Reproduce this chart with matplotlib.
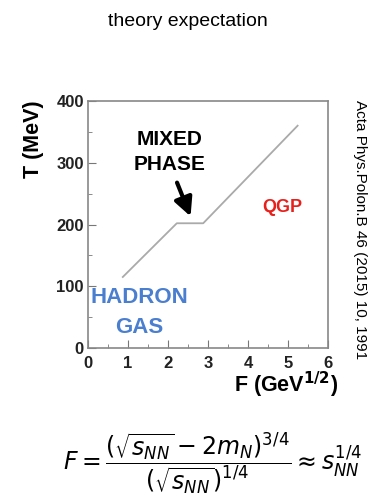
import matplotlib
matplotlib.use("Agg")
import matplotlib.pyplot as plt
from matplotlib.ticker import MultipleLocator

plt.rcParams['font.family'] = ['Liberation Sans', 'DejaVu Sans']
plt.rcParams['mathtext.fontset'] = 'dejavusans'

# expected T vs F curve
f_vals = [0.87, 2.22, 2.88, 5.24]
t_vals = [115, 202, 202, 360]

x_ticks = [0, 1, 2, 3, 4, 5, 6]
y_ticks = [0, 100, 200, 300, 400]

fig = plt.figure(figsize=(3.76, 4.97), dpi=100)
W, H = 376, 497
ax = fig.add_axes([88 / W, 1 - 348 / H, 240 / W, 247 / H])

ax.plot(f_vals, t_vals, color='#aaaaaa', lw=1.3)
ax.set_xlim(0, 6)
ax.set_ylim(0, 400)
ax.set_xticks(x_ticks)
ax.set_yticks(y_ticks)
ax.xaxis.set_minor_locator(MultipleLocator(0.5))
ax.yaxis.set_minor_locator(MultipleLocator(50))
ax.tick_params(which='both', direction='in', top=False, right=False,
               color='#777777', labelcolor='#222222')
ax.tick_params(which='major', length=6, labelsize=12, pad=3)
ax.tick_params(axis='x', which='major', pad=6)
ax.tick_params(which='minor', length=3)
for lab in ax.get_xticklabels() + ax.get_yticklabels():
    lab.set_fontweight('bold')
for sp in ax.spines.values():
    sp.set_color('#888888')
    sp.set_linewidth(1.2)

fig.text(33 / W, 1 - 139 / H, 'T (MeV)', fontsize=15.5, fontweight='bold',
         rotation=90, ha='center', va='center')
fig.text(338 / W, 1 - 385 / H, r'F (GeV$^{\mathbf{1/2}}$)', fontsize=15.5,
         fontweight='bold', ha='right', va='center')

ax.text(2.05, 317, 'MIXED\nPHASE', fontsize=15, fontweight='bold', color='black',
        ha='center', va='center', linespacing=1.4)
ax.annotate('', xy=(2.59, 209), xytext=(2.2, 272),
            arrowprops=dict(arrowstyle='-|>,head_length=1.1,head_width=0.55',
                            color='black', lw=3))
ax.text(4.85, 228, 'QGP', fontsize=13, fontweight='bold', color='#e8201c',
        ha='center', va='center')
ax.text(1.29, 58, 'HADRON\nGAS', fontsize=16, fontweight='bold', color='#4a7fd0',
        ha='center', va='center', linespacing=1.55)

fig.text(188 / W, 1 - 22 / H, 'theory expectation', fontsize=14,
         ha='center', va='center')
fig.text(360 / W, 1 - 230 / H, 'Acta Phys.Polon.B 46 (2015) 10, 1991',
         fontsize=11, rotation=-90, ha='center', va='center')
fig.text(213 / W, 1 - 463 / H,
         r'$F = \dfrac{(\sqrt{s_{NN}} - 2m_N)^{3/4}}{(\sqrt{s_{NN}})^{1/4}} \approx s_{NN}^{1/4}$',
         fontsize=17, ha='center', va='center')

fig.savefig('out.png', dpi=100)
